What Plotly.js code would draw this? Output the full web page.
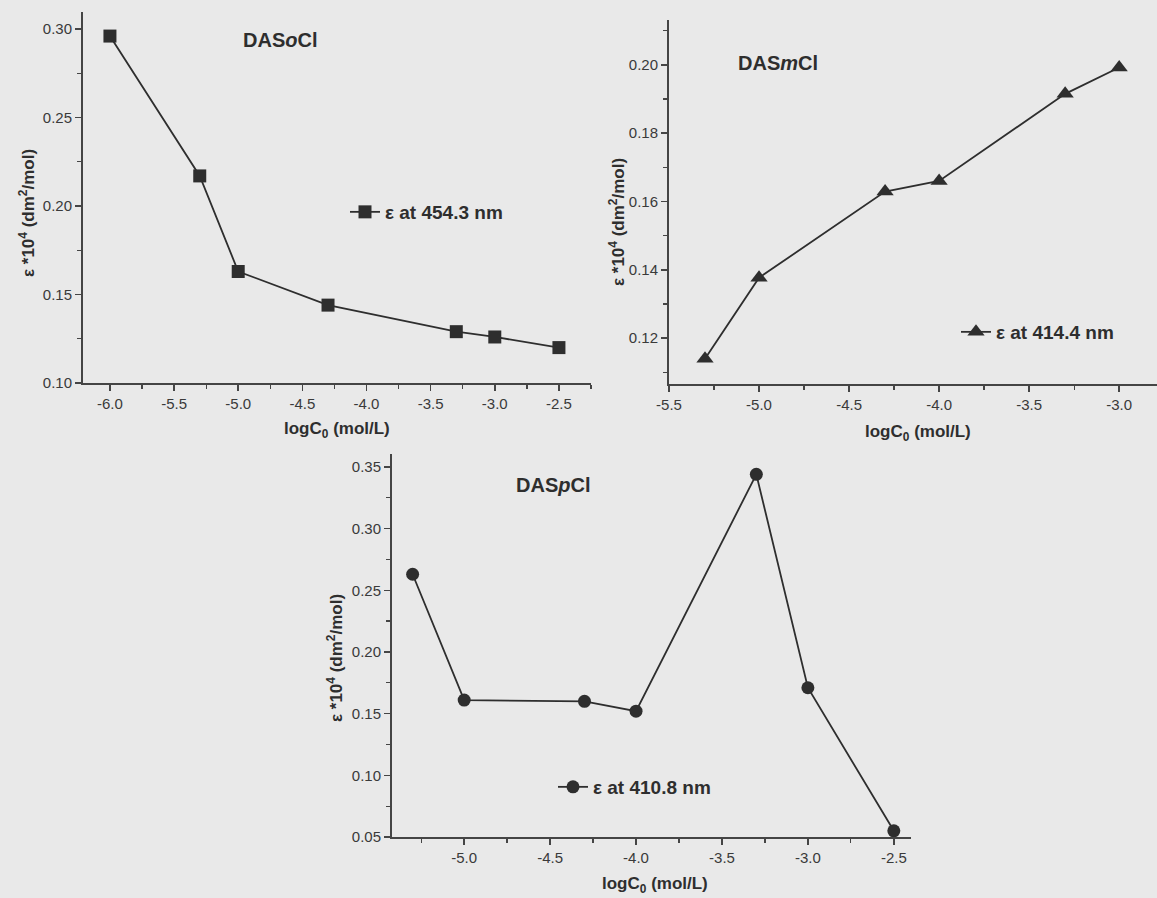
<!DOCTYPE html>
<html>
<head>
<meta charset="utf-8">
<script src="https://cdn.plot.ly/plotly-3.0.1.min.js"></script>
<style>html,body{margin:0;padding:0;background:#e9e9e9;}#chart{width:1157px;height:898px;}</style>
</head>
<body>
<div id="chart"></div>
<script>
// ---- data ----
const xOCl = [-6.0, -5.3, -5.0, -4.3, -3.3, -3.0, -2.5];
const yOCl = [0.296, 0.217, 0.163, 0.144, 0.129, 0.126, 0.120];
const xMCl = [-5.3, -5.0, -4.3, -4.0, -3.3, -3.0];
const yMCl = [0.114, 0.1377, 0.1629, 0.1660, 0.1915, 0.1992];
const xPCl = [-5.3, -5.0, -4.3, -4.0, -3.3, -3.0, -2.5];
const yPCl = [0.263, 0.161, 0.160, 0.152, 0.344, 0.171, 0.055];
const xTickLabels = ['-6.0', '-5.5', '-5.0', '-4.5', '-4.0', '-3.5', '-3.0', '-2.5'];
const legendNames = ['<b>ε at 454.3 nm</b>', '<b>ε at 414.4 nm</b>', '<b>ε at 410.8 nm</b>'];
const panelTitles = ['<b>DAS<i>o</i>Cl</b>', '<b>DAS<i>m</i>Cl</b>', '<b>DAS<i>p</i>Cl</b>'];
const xTitle = '<b>logC<sub>0</sub> (mol/L)</b>';
const yTitle = '<b>ε *10<sup>4</sup> (dm<sup>2</sup>/mol)</b>';

const W = 1157, H = 898;
const px = v => v / W;
const py = v => 1 - v / H;
const ink = '#2e2e2e';
const axisCol = '#454545';
const FONT = 'Liberation Sans, Arial, sans-serif';

// show plain hyphen-minus in tick labels, as in the reference
const alias = {};
xTickLabels.forEach(t => { alias[t.replace('-', '\u2212')] = t; });

function trace(x, y, sym, size, xa, ya, leg, name) {
  return {
    x: x, y: y, type: 'scatter', mode: 'lines+markers', name: name,
    xaxis: xa, yaxis: ya, legend: leg,
    line: {color: ink, width: 1.8},
    marker: {symbol: sym, size: size, color: ink}
  };
}

const data = [
  trace(xOCl, yOCl, 'square', 13, 'x', 'y', 'legend', legendNames[0]),
  trace(xMCl, yMCl, 'triangle-up', 15, 'x2', 'y2', 'legend2', legendNames[1]),
  trace(xPCl, yPCl, 'circle', 13, 'x3', 'y3', 'legend3', legendNames[2])
];

function xax(domain, range, anchor) {
  return {
    domain: domain, range: range, anchor: anchor, dtick: 0.5, tick0: 0,
    showgrid: false, zeroline: false, showline: true, linecolor: axisCol, linewidth: 2,
    ticks: 'outside', ticklen: 6, tickwidth: 1.5, tickcolor: axisCol,
    minor: {dtick: 0.25, tick0: 0, ticks: 'outside', ticklen: 4, tickwidth: 1.3, tickcolor: axisCol, showgrid: false},
    tickformat: '.1f', labelalias: alias, tickfont: {family: FONT, size: 15, color: '#3a3a3a'}
  };
}
function yax(domain, range, anchor, dt, fmt) {
  return {
    domain: domain, range: range, anchor: anchor, dtick: dt, tick0: 0,
    showgrid: false, zeroline: false, showline: true, linecolor: axisCol, linewidth: 2,
    ticks: 'outside', ticklen: 6, tickwidth: 1.5, tickcolor: axisCol,
    minor: {dtick: dt / 2, tick0: 0, ticks: 'outside', ticklen: 4, tickwidth: 1.3, tickcolor: axisCol, showgrid: false},
    tickformat: fmt, tickfont: {family: FONT, size: 15, color: '#3a3a3a'}
  };
}

function legendAt(x, y) {
  return {x: x, y: y, xanchor: 'left', yanchor: 'middle', bgcolor: 'rgba(0,0,0,0)',
    font: {family: FONT, size: 19, color: ink}, borderwidth: 0};
}

const annFont = {family: FONT, size: 17, color: ink};
function ann(text, x, y, font, angle) {
  return {text: text, x: px(x), y: py(y), xref: 'paper', yref: 'paper', showarrow: false,
    xanchor: 'center', yanchor: 'middle', textangle: angle || 0, font: font};
}
const titleFont = {family: FONT, size: 20, color: ink};
const annotations = [
  ann(panelTitles[0], 280, 40, titleFont),
  ann(panelTitles[1], 778, 63, titleFont),
  ann(panelTitles[2], 553, 485, titleFont),
  ann(xTitle, 337, 430, annFont),
  ann(xTitle, 918, 433, annFont),
  ann(xTitle, 655, 885, annFont),
  ann(yTitle, 27, 213, annFont, -90),
  ann(yTitle, 617, 222, annFont, -90),
  ann(yTitle, 335, 658, annFont, -90)
];

const layout = {
  width: W, height: H,
  margin: {l: 0, r: 0, t: 0, b: 0},
  paper_bgcolor: '#e9e9e9', plot_bgcolor: 'rgba(0,0,0,0)',
  font: {family: FONT, color: ink},
  xaxis: xax([px(83), px(591)], [-6.21, -2.25], 'y'),
  yaxis: yax([py(383), py(12)], [0.10, 0.3096], 'x', 0.05, '.2f'),
  xaxis2: xax([px(669), 1], [-5.5, -2.79], 'y2'),
  yaxis2: yax([py(384), py(20)], [0.1066, 0.2131], 'x2', 0.02, '.2f'),
  xaxis3: xax([px(392), px(911)], [-5.42, -2.40], 'y3'),
  yaxis3: yax([py(837), py(454)], [0.05, 0.3605], 'x3', 0.05, '.2f'),
  legend: legendAt(px(345), py(212)),
  legend2: legendAt(px(956), py(332)),
  legend3: legendAt(px(553), py(787)),
  showlegend: true,
  annotations: annotations
};

Plotly.newPlot('chart', data, layout, {displayModeBar: false, staticPlot: true});
</script>
</body>
</html>
